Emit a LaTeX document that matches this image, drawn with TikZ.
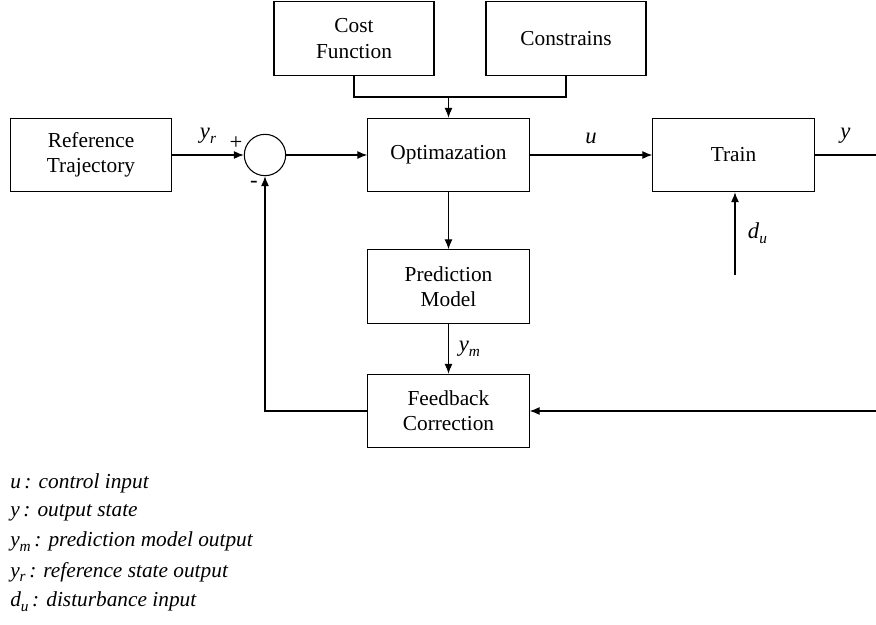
\documentclass[tikz,border=0pt]{standalone}
\usepackage{fontspec}
\setmainfont{Liberation Serif}
\usetikzlibrary{arrows.meta}

\newcommand{\sym}[2]{\textit{#1}\raisebox{-0.5ex}{\fontsize{11.5}{12}\selectfont\itshape #2}}

\begin{document}
\begin{tikzpicture}[x=0.75pt, y=-0.75pt,
    block/.style={draw, line width=0.8pt, minimum width=121pt, minimum height=55pt, align=center, inner sep=2pt, font=\fontsize{16}{19}\selectfont},
    summer/.style={draw, line width=0.8pt, circle, minimum size=31pt, inner sep=0pt},
    link/.style={line width=0.8pt, -{Latex[length=7.5pt, width=6pt]}},
    wire/.style={line width=0.8pt},
    sig/.style={font=\fontsize{17}{19}\selectfont},
    legend/.style={anchor=west, inner sep=0pt, font=\fontsize{16}{19}\selectfont\itshape}]

    \useasboundingbox (0,0) rectangle (876,625);

    % Blocks
    \node[block] (ref) at (91,155) {Reference\\Trajectory};
    \node[summer] (sum) at (265,155) {};
    \node[block] (opt) at (448.5,155) {Optimazation};
    \node[block] (train) at (733.5,155) {Train};
    \node[block, minimum width=120pt] (cost) at (354,38.5) {Cost\\Function};
    \node[block, minimum width=120pt] (cons) at (566,38.5) {Constrains};
    \node[block] (pred) at (448.5,286.5) {Prediction\\Model};
    \node[block] (fb) at (448.5,411) {Feedback\\Correction};

    \coordinate (merge) at (448.5,97);
    \coordinate (yout) at (876,155);
    \coordinate (yin) at (876,411);
    \coordinate (dist) at (735,275);
    \coordinate (back) at (265,411);

    % Forward path
    \draw[link] (ref) -- (sum) node[midway, above=5pt, sig] {\sym{y}{r}};
    \draw[link] (sum) -- (opt);
    \draw[link] (opt) -- (train) node[midway, above=5pt, sig] {\textit{u}};
    \draw[wire] (train) -- (yout) node[midway, above=5pt, sig] {\textit{y}};
    \draw[link] (dist) -- (dist |- train.south) node[midway, right=6pt, sig] {\sym{d}{u}};

    % Cost and constrains
    \draw[wire] (cost.south) |- (merge) -| (cons.south);
    \draw[link] (merge) -- (opt.north);

    % Prediction and feedback
    \draw[link] (opt) -- (pred);
    \draw[link] (pred) -- (fb) node[midway, right=4pt, sig] {\sym{y}{m}};
    \draw[link] (yin) -- (fb);
    \draw[link] (fb.west) -- (back) -- (sum.south);

    \node[sig] (plus) at (236,143) {+};
    \node[sig] (minus) at (254,184) {-};

    % Legend
    \node[legend] (l1) at (10,483) {u\,: control input};
    \node[legend] (l2) at (10,513) {y\,: output state};
    \node[legend] (l3) at (10,542) {\sym{y}{m}\,: prediction model output};
    \node[legend] (l4) at (10,572) {\sym{y}{r}\,: reference state output};
    \node[legend] (l5) at (10,602) {\sym{d}{u}\,: disturbance input};
\end{tikzpicture}
\end{document}
